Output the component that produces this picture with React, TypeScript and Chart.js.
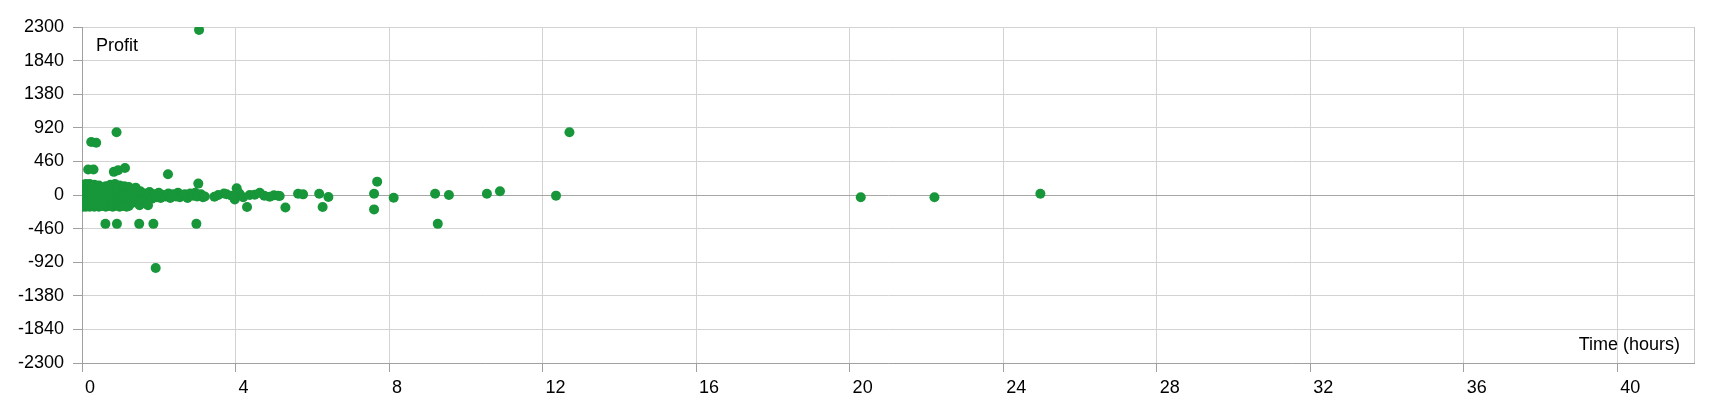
import React, { useEffect, useRef } from "react";
import { Chart, registerables } from "chart.js";

Chart.register(...registerables);

// Dense cluster of short trades (hours, profit)
const clusterTimes = [
  0.02, 0.02, 0.02, 0.02, 0.02,
  0.06, 0.06, 0.06, 0.06,
  0.1, 0.1, 0.1, 0.1, 0.1,
  0.15, 0.15, 0.15, 0.15,
  0.2, 0.2, 0.2, 0.2, 0.2,
  0.26, 0.26, 0.26, 0.26,
  0.32, 0.32, 0.32, 0.32, 0.32,
  0.38, 0.38, 0.38, 0.38,
  0.44, 0.44, 0.44, 0.44, 0.44,
  0.5, 0.5, 0.5, 0.5,
  0.56, 0.56, 0.56,
  0.62, 0.62, 0.62, 0.62, 0.62,
  0.68, 0.68, 0.68, 0.68,
  0.74, 0.74, 0.74, 0.74,
  0.8, 0.8, 0.8, 0.8, 0.8,
  0.86, 0.86, 0.86, 0.86,
  0.92, 0.92, 0.92, 0.92,
  0.98, 0.98, 0.98, 0.98, 0.98,
  1.04, 1.04, 1.04, 1.04,
  1.1, 1.1, 1.1, 1.1,
  1.16, 1.16, 1.16, 1.16,
  1.22, 1.22, 1.22, 1.22,
  1.3, 1.3, 1.3,
  1.35, 1.35, 1.4, 1.45, 1.5, 1.52, 1.58, 1.63, 1.7, 1.72, 1.76, 1.82, 1.88,
  1.95, 2.0, 2.05, 2.12, 2.18, 2.25, 2.3, 2.37, 2.45, 2.5, 2.55, 2.6, 2.68,
  2.75, 2.82, 2.9, 2.95, 3.0, 3.1, 3.15,
];
const clusterProfits = [
  140, 60, -20, -110, -160,
  100, 20, -60, -140,
  150, 70, -10, -90, -160,
  120, 40, -50, -130,
  150, 80, 0, -80, -160,
  110, 30, -40, -120,
  140, 60, -20, -100, -160,
  90, 10, -70, -140,
  130, 50, -30, -110, -160,
  100, 20, -60, -150,
  70, -10, -90,
  120, 40, -40, -120, -160,
  90, 10, -70, -150,
  140, 60, -20, -100,
  110, 30, -50, -130, -160,
  150, 70, -10, -90,
  100, 20, -60, -140,
  130, 50, -30, -110, -160,
  90, 10, -70, -150,
  120, 40, -40, -120,
  60, -20, -100, -160,
  110, 10, -60, -150,
  40, -30, -110,
  30, -40, 100, -10, -140, 50, -50, 20, -30, -140, 40, -50, 10,
  -30, 30, -40, 0, -20, 20, -40, 10, -20, 30, -30, 0, 10,
  -40, 20, -10, 30, -20, 10, -30,
];

// Isolated trades (hours, profit)
const sparseTimes = [
  3.05, 0.9, 12.7, 0.24, 0.37, 0.16, 0.3, 0.83, 0.94, 1.12, 2.24, 3.03,
  0.61, 0.91, 1.49, 1.86, 2.98, 1.92,
  4.3, 5.3, 6.27, 4.03, 3.98,
  5.63, 5.76, 6.18, 6.42, 7.61, 7.61, 7.69, 8.12,
  9.2, 9.27, 9.56, 10.55, 10.89, 12.35,
  20.29, 22.21, 24.97,
  3.2, 3.45, 3.55, 3.7, 3.77, 3.9, 4.1, 4.2, 4.37, 4.5, 4.63, 4.75, 4.89, 5.0, 5.11, 5.15,
];
const sparseProfits = [
  2260, 860, 860, 725, 715, 350, 350, 317, 340, 370, 285, 156,
  -395, -395, -395, -395, -395, -1000,
  -165, -170, -165, 92, -60,
  18, 9, 18, -28, 18, -197, 183, -37,
  18, -395, 0, 18, 51, -9,
  -32, -32, 18,
  -20, -25, 0, 20, 10, -10, 20, -30, 0, 5, 32, -10, -23, -5, -10, -14,
];

const xTickStep = 4;
const xMax = 42;
const yTickStep = 460;
const yLimit = 2300;
const yAxisTitle = "Profit";
const xAxisTitle = "Time (hours)";

const FONT = '"Liberation Sans", Arial, sans-serif';

export default function App() {
  const canvasRef = useRef<HTMLCanvasElement | null>(null);

  useEffect(() => {
    const canvas = canvasRef.current;
    if (!canvas) return;
    const points = [
      ...clusterTimes.map((t, i) => ({ x: t, y: clusterProfits[i] })),
      ...sparseTimes.map((t, i) => ({ x: t, y: sparseProfits[i] })),
    ];

    const overlay = {
      id: "overlay",
      beforeDatasetsDraw(chart: any) {
        const { ctx, chartArea } = chart;
        ctx.save();
        ctx.strokeStyle = "#c8c8c8";
        ctx.lineWidth = 1;
        ctx.beginPath();
        ctx.moveTo(Math.round(chartArea.right) + 0.5, chartArea.top);
        ctx.lineTo(Math.round(chartArea.right) + 0.5, chartArea.bottom);
        ctx.stroke();
        ctx.restore();
      },
      afterDraw(chart: any) {
        const { ctx, chartArea } = chart;
        ctx.save();
        ctx.fillStyle = "#000";
        ctx.font = `18px ${FONT}`;
        ctx.textBaseline = "alphabetic";
        ctx.textAlign = "left";
        ctx.fillText(yAxisTitle, chartArea.left + 14, chartArea.top + 24);
        ctx.textAlign = "right";
        ctx.fillText(xAxisTitle, chartArea.right - 14, chartArea.bottom - 13);
        ctx.restore();
      },
    };

    const chart = new Chart(canvas, {
      type: "scatter",
      data: {
        datasets: [
          {
            data: points,
            backgroundColor: "#17963a",
            borderWidth: 0,
            pointRadius: 5,
            pointHoverRadius: 5,
          },
        ],
      },
      options: {
        animation: false,
        responsive: false,
        maintainAspectRatio: false,
        layout: { padding: { top: 27, right: 26, left: 0, bottom: 0 } },
        plugins: { legend: { display: false }, tooltip: { enabled: false } },
        scales: {
          x: {
            type: "linear",
            min: 0,
            max: xMax,
            afterFit: (s: any) => {
              s.height = 37;
            },
            afterBuildTicks: (s: any) => {
              s.ticks = s.ticks.filter((t: any) => t.value % xTickStep === 0);
            },
            ticks: {
              stepSize: xTickStep,
              align: "start",
              labelOffset: 3,
              padding: 5,
              color: "#000",
              font: { family: FONT, size: 18 },
              maxRotation: 0,
              autoSkip: false,
              callback: (v: any) => String(v),
            },
            grid: { color: "#d3d3d3", tickColor: "#a0a0a0", tickLength: 9 },
            border: { color: "#a0a0a0" },
          },
          y: {
            type: "linear",
            min: -yLimit,
            max: yLimit,
            afterFit: (s: any) => {
              s.width = 82;
            },
            ticks: {
              stepSize: yTickStep,
              padding: 9,
              color: "#000",
              font: { family: FONT, size: 18 },
              autoSkip: false,
              callback: (v: any) => String(v),
            },
            grid: {
              color: (c: any) => (c.tick && c.tick.value === 0 ? "#a6a6a6" : "#d3d3d3"),
              tickColor: "#a0a0a0",
              tickLength: 9,
            },
            border: { color: "#a0a0a0" },
          },
        },
      },
      plugins: [overlay],
    });
    return () => chart.destroy();
  }, []);

  return (
    <div style={{ position: "fixed", left: 0, top: 0, width: 1720, height: 400, background: "#fff" }}>
      <canvas ref={canvasRef} width={1720} height={400} style={{ width: 1720, height: 400 }} />
    </div>
  );
}
